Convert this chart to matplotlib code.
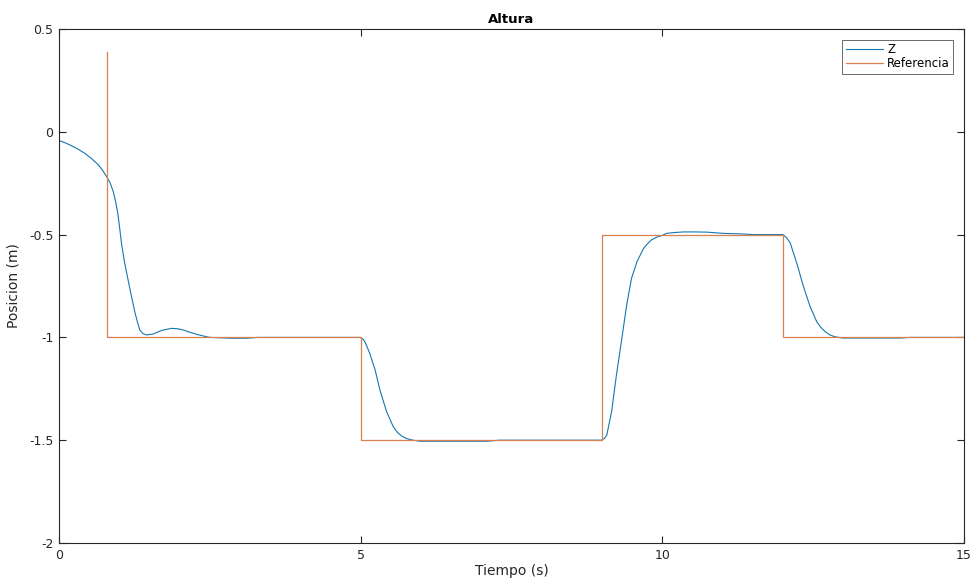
import numpy as np
import matplotlib.pyplot as plt

# Datos
# Referencia (escalones)
t_ref = [0.8, 0.8, 5.0, 5.0, 9.0, 9.0, 12.0, 12.0, 15.0]
z_ref = [0.39, -1.0, -1.0, -1.5, -1.5, -0.5, -0.5, -1.0, -1.0]

# Z (respuesta medida)
t_z = [0.0, 0.1, 0.21, 0.32, 0.43, 0.54, 0.65, 0.72, 0.79, 0.85, 0.90, 0.94,
       0.98, 1.01, 1.04, 1.09, 1.18, 1.26, 1.31, 1.34, 1.39, 1.45, 1.56, 1.65,
       1.73, 1.87, 1.97, 2.06, 2.17, 2.28, 2.39, 2.50, 2.86, 3.11, 3.3, 4.99,
       5.03, 5.07, 5.15, 5.24, 5.32, 5.43, 5.54, 5.61, 5.68, 5.76, 5.85, 5.98,
       6.6, 7.1, 7.3, 8.99, 9.04, 9.08, 9.16, 9.24, 9.33, 9.41, 9.49, 9.58, 9.69,
       9.76, 9.82, 9.91, 9.99, 10.07, 10.2, 10.35, 10.55, 10.74, 11.01, 11.34,
       11.5, 12.0, 12.06, 12.12, 12.23, 12.34, 12.45, 12.56, 12.63, 12.70,
       12.78, 12.86, 12.99, 13.96, 14.1, 15.0]
z = [-0.043, -0.053, -0.068, -0.085, -0.105, -0.13, -0.16, -0.186, -0.218,
     -0.25, -0.291, -0.34, -0.405, -0.478, -0.55, -0.64, -0.77, -0.88, -0.935,
     -0.964, -0.981, -0.988, -0.984, -0.972, -0.964, -0.956, -0.958, -0.964,
     -0.975, -0.985, -0.993, -1.0, -1.004, -1.004, -1.0, -1.0, -1.006, -1.02,
     -1.077, -1.158, -1.256, -1.361, -1.434, -1.462, -1.48, -1.492, -1.499,
     -1.505, -1.505, -1.505, -1.5, -1.5, -1.492, -1.475, -1.361, -1.183,
     -1.004, -0.842, -0.713, -0.632, -0.567, -0.543, -0.526, -0.512, -0.505,
     -0.494, -0.49, -0.487, -0.487, -0.488, -0.494, -0.497, -0.5, -0.5,
     -0.515, -0.54, -0.64, -0.753, -0.85, -0.924, -0.952, -0.972, -0.988,
     -0.997, -1.003, -1.003, -1.0, -1.0]

x_ticks = [0, 5, 10, 15]
y_ticks = [-2, -1.5, -1, -0.5, 0, 0.5]
y_tick_labels = ['-2', '-1.5', '-1', '-0.5', '0', '0.5']

plt.rcParams['font.family'] = 'DejaVu Sans'
fig = plt.figure(figsize=(9.73, 5.86), dpi=100)
ax = fig.add_axes([0.0606, 0.0734, 0.9301, 0.8771])

ax.plot(t_z, z, color='#1577AE', linewidth=0.8, label='Z')
ax.plot(t_ref, z_ref, color='#D9804F', linewidth=0.9, label='Referencia')

ax.set_xlim(0, 15)
ax.set_ylim(-2, 0.5)
ax.set_xticks(x_ticks)
ax.set_yticks(y_ticks)
ax.set_yticklabels(y_tick_labels)
ax.tick_params(direction='in', length=5, width=0.8, top=True, right=True,
               labelsize=9, colors='#262626', pad=4)
for s in ax.spines.values():
    s.set_linewidth(0.8)
    s.set_color('#262626')

ax.set_title('Altura', fontsize=9.5, fontweight='bold', pad=4)
ax.set_xlabel('Tiempo (s)', fontsize=10, color='#262626', labelpad=2)
ax.set_ylabel('Posicion (m)', fontsize=10, color='#262626', labelpad=6)

leg = ax.legend(loc='upper right', fontsize=8.5, frameon=True, fancybox=False,
                edgecolor='#262626', handlelength=3.2, borderpad=0.3,
                labelspacing=0.1, handletextpad=0.3, borderaxespad=0.9)
leg.get_frame().set_linewidth(0.6)

plt.savefig('out.png', dpi=100)
